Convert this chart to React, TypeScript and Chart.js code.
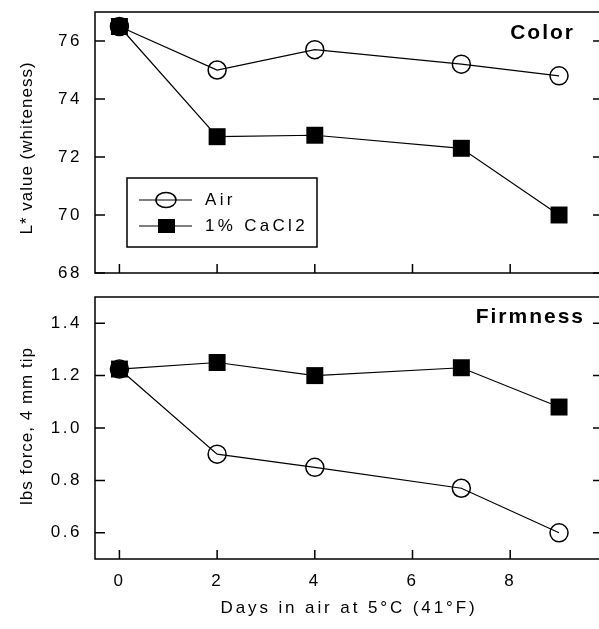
import { useEffect, useRef } from 'react';
import { Chart, registerables } from 'chart.js';

Chart.register(...registerables);

// ---------- data ----------
const days = [0, 2, 4, 7, 9];
const seriesNames = ['Air', '1% CaCl2'];
const colorAir = [76.5, 75.0, 75.7, 75.2, 74.8];
const colorCaCl2 = [76.5, 72.7, 72.75, 72.3, 70.0];
const firmAir = [1.225, 0.9, 0.85, 0.77, 0.6];
const firmCaCl2 = [1.225, 1.25, 1.2, 1.23, 1.08];
const xTickValues = [0, 2, 4, 6, 8];
const colorTickValues = [68, 70, 72, 74, 76];
const firmTickValues = [0.6, 0.8, 1.0, 1.2, 1.4];
const panelTitles = ['Color', 'Firmness'];
const yTitles = ['L* value (whiteness)', 'lbs force, 4 mm tip'];
const xTitle = 'Days in air at 5°C (41°F)';

const FONT = "'Liberation Sans', Arial, Helvetica, sans-serif";
const CANVAS_W = 615;
const TOP_H = 285;
const BOT_H = 344;

function makeDatasets(air: number[], cacl: number[]) {
  return [
    {
      label: seriesNames[0],
      data: days.map((d, i) => ({ x: d, y: air[i] })),
      showLine: true,
      borderColor: '#000',
      borderWidth: 1.2,
      pointStyle: 'circle',
      pointRadius: 9,
      pointBackgroundColor: 'rgba(0,0,0,0)',
      pointBorderColor: '#000',
      pointBorderWidth: 1.5,
      order: 1,
    },
    {
      label: seriesNames[1],
      data: days.map((d, i) => ({ x: d, y: cacl[i] })),
      showLine: true,
      borderColor: '#000',
      borderWidth: 1.2,
      pointStyle: 'rect',
      pointRadius: 12,
      pointBackgroundColor: '#000',
      pointBorderColor: '#000',
      pointBorderWidth: 0,
      order: 0,
    },
  ];
}

type Deco = {
  yTicks: number[];
  panelTitle: string;
  panelX: number;
  panelY: number;
  yTitle: string;
  yTitleX: number;
  yTitleY: number;
  xTitle?: string;
  xTitleY?: number;
  legend?: boolean;
};

function decoPlugin(cfg: Deco) {
  return {
    id: 'deco',
    beforeDraw(chart: any) {
      chart.ctx.letterSpacing = '2.5px';
    },
    afterDraw(chart: any) {
      const ctx = chart.ctx as CanvasRenderingContext2D;
      const a = chart.chartArea;
      const xs = chart.scales.x;
      const ys = chart.scales.y;
      ctx.save();
      ctx.strokeStyle = '#000';
      ctx.lineWidth = 1.5;
      ctx.strokeRect(a.left, a.top, a.right - a.left, a.bottom - a.top);
      ctx.beginPath();
      for (const v of cfg.yTicks) {
        const p = ys.getPixelForValue(v);
        ctx.moveTo(a.left, p);
        ctx.lineTo(a.left + 10, p);
        ctx.moveTo(a.right, p);
        ctx.lineTo(a.right - 10, p);
      }
      for (const v of xTickValues) {
        const p = xs.getPixelForValue(v);
        ctx.moveTo(p, a.bottom);
        ctx.lineTo(p, a.bottom - 9);
      }
      ctx.stroke();

      ctx.fillStyle = '#000';
      // panel title
      ctx.font = `bold 21px ${FONT}`;
      (ctx as any).letterSpacing = '2px';
      ctx.textAlign = 'right';
      ctx.textBaseline = 'middle';
      ctx.fillText(cfg.panelTitle, cfg.panelX, cfg.panelY);

      // y title
      ctx.save();
      ctx.font = `17px ${FONT}`;
      (ctx as any).letterSpacing = '1px';
      ctx.translate(cfg.yTitleX, cfg.yTitleY);
      ctx.rotate(-Math.PI / 2);
      ctx.textAlign = 'center';
      ctx.textBaseline = 'middle';
      ctx.fillText(cfg.yTitle, 0, 0);
      ctx.restore();

      // x title
      if (cfg.xTitle) {
        ctx.font = `17px ${FONT}`;
        (ctx as any).letterSpacing = '2.9px';
        ctx.textAlign = 'center';
        ctx.textBaseline = 'middle';
        ctx.fillText(cfg.xTitle, (a.left + a.right) / 2, cfg.xTitleY as number);
      }

      // legend
      if (cfg.legend) {
        const ds = chart.data.datasets;
        ctx.lineWidth = 1.5;
        ctx.strokeRect(127, 178, 190, 69);
        const rows = [200, 226];
        ctx.font = `17px ${FONT}`;
        (ctx as any).letterSpacing = '3.3px';
        ctx.textAlign = 'left';
        ctx.textBaseline = 'middle';
        rows.forEach((ry, i) => {
          ctx.lineWidth = 1.2;
          ctx.beginPath();
          ctx.moveTo(139, ry);
          ctx.lineTo(192, ry);
          ctx.stroke();
          if (i === 0) {
            ctx.lineWidth = 1.5;
            ctx.beginPath();
            ctx.ellipse(166, ry, 10, 7.5, 0, 0, Math.PI * 2);
            ctx.stroke();
          } else {
            ctx.fillRect(158, ry - 7, 17, 14);
          }
          ctx.fillText(ds[i].label, 205, ry);
        });
      }
      ctx.restore();
    },
  };
}

function makeConfig(
  air: number[],
  cacl: number[],
  yMin: number,
  yMax: number,
  yTicks: number[],
  fmt: (v: number) => string,
  showX: boolean,
  padding: any,
  deco: Deco
): any {
  return {
    type: 'scatter',
    data: { datasets: makeDatasets(air, cacl) },
    options: {
      responsive: false,
      animation: false,
      devicePixelRatio: 1,
      layout: { padding },
      plugins: {
        legend: { display: false },
        tooltip: { enabled: false },
        title: { display: false },
      },
      scales: {
        x: {
          type: 'linear',
          min: -0.5,
          max: 9.9,
          display: showX,
          afterBuildTicks: (s: any) => {
            s.ticks = xTickValues.map((v) => ({ value: v }));
          },
          ticks: {
            autoSkip: false,
            maxRotation: 0,
            padding: 12,
            color: '#000',
            font: { family: FONT, size: 17 },
            callback: (v: any) => String(v),
          },
          grid: { display: false, drawTicks: false },
          border: { display: false },
          afterFit: (s: any) => {
            s.height = showX ? 70 : 0;
            s.paddingLeft = 0;
            s.paddingRight = 0;
          },
        },
        y: {
          type: 'linear',
          min: yMin,
          max: yMax,
          afterBuildTicks: (s: any) => {
            s.ticks = yTicks.map((v) => ({ value: v }));
          },
          ticks: {
            autoSkip: false,
            padding: 13,
            color: '#000',
            font: { family: FONT, size: 17 },
            callback: (v: any) => fmt(Number(v)),
          },
          grid: { display: false, drawTicks: false },
          border: { display: false },
          afterFit: (s: any) => {
            s.width = 95;
            s.paddingTop = 0;
            s.paddingBottom = 0;
          },
        },
      },
    },
    plugins: [decoPlugin(deco)],
  };
}

export default function App() {
  const topRef = useRef<HTMLCanvasElement>(null);
  const botRef = useRef<HTMLCanvasElement>(null);

  useEffect(() => {
    document.body.style.margin = '0';
    const top = new Chart(
      topRef.current as HTMLCanvasElement,
      makeConfig(
        colorAir,
        colorCaCl2,
        68,
        77,
        colorTickValues,
        (v) => String(Math.round(v)),
        false,
        { top: 12, right: CANVAS_W - 606, bottom: TOP_H - 277, left: 0 },
        {
          yTicks: colorTickValues,
          panelTitle: panelTitles[0],
          panelX: 575,
          panelY: 33,
          yTitle: yTitles[0],
          yTitleX: 27,
          yTitleY: 148,
          legend: true,
        }
      )
    );
    const bot = new Chart(
      botRef.current as HTMLCanvasElement,
      makeConfig(
        firmAir,
        firmCaCl2,
        0.5,
        1.5,
        firmTickValues,
        (v) => v.toFixed(1),
        true,
        { top: 8, right: CANVAS_W - 606, bottom: 0, left: 0 },
        {
          yTicks: firmTickValues,
          panelTitle: panelTitles[1],
          panelX: 585,
          panelY: 32,
          yTitle: yTitles[1],
          yTitleX: 27,
          yTitleY: 141,
          xTitle,
          xTitleY: 323,
        }
      )
    );
    return () => {
      top.destroy();
      bot.destroy();
    };
  }, []);

  return (
    <div
      style={{
        position: 'relative',
        width: 599,
        height: 629,
        overflow: 'hidden',
        background: '#fff',
      }}
    >
      <canvas
        ref={topRef}
        width={CANVAS_W}
        height={TOP_H}
        style={{ position: 'absolute', left: 0, top: 0 }}
      />
      <canvas
        ref={botRef}
        width={CANVAS_W}
        height={BOT_H}
        style={{ position: 'absolute', left: 0, top: TOP_H }}
      />
    </div>
  );
}
